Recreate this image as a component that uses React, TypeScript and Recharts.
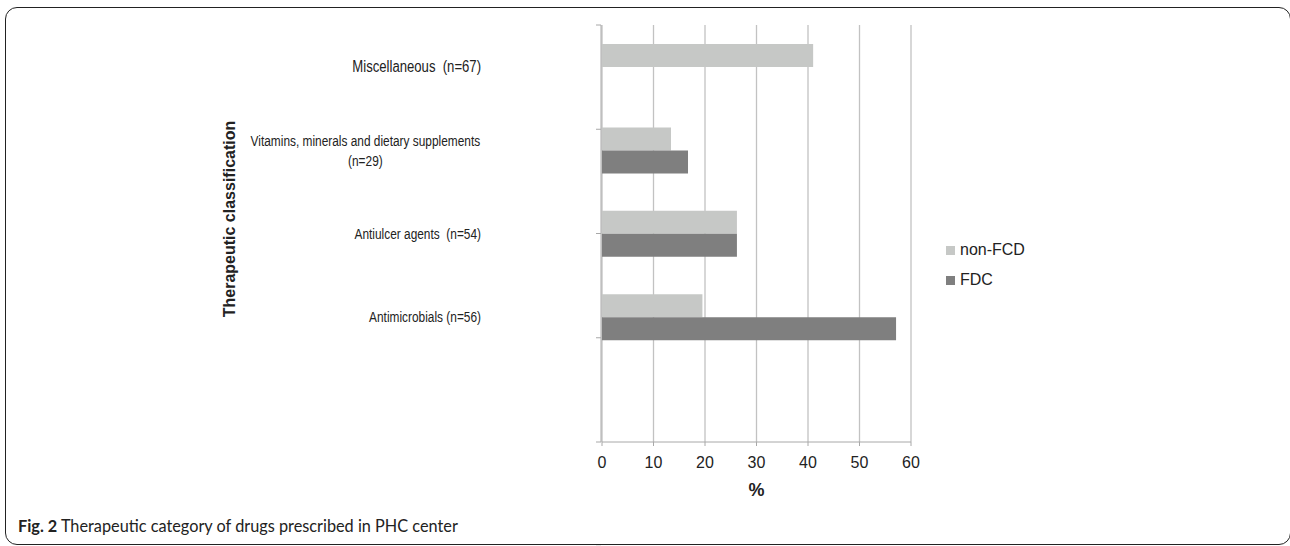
import React from "react";
import { BarChart, Bar, XAxis, YAxis, CartesianGrid, Legend } from "recharts";

// Категории сверху вниз (последняя пустая, как в оригинале)
const categories = [
  "Miscellaneous  (n=67)",
  "Vitamins, minerals and dietary supplements\n(n=29)",
  "Antiulcer agents  (n=54)",
  "Antimicrobials (n=56)",
  "",
];
const nonFcdValues = [41, 13.4, 26.2, 19.5, null];
const fdcValues = [0, 16.7, 26.2, 57.1, null];
const seriesNames = ["non-FCD", "FDC"];
const xTicks = [0, 10, 20, 30, 40, 50, 60];
const bandEdges = [0, 1, 2, 3, 4, 5];

const data = categories.map((name, i) => ({
  name,
  nonFcd: nonFcdValues[i],
  fdc: fdcValues[i],
}));

const LIGHT = "#c6c8c6";
const DARK = "#7f7f7f";
const AXIS = "#a8a8a8";
const GRID = "#c2c2c2";
const TEXT = "#222";
const SANS = '"Liberation Sans", Arial, Helvetica, sans-serif';
const NARROW_SCALE = 0.82; // имитация Arial Narrow

// Подпись категории: первая крупнее, многострочные центрируются
const CategoryTick = ({ x, y, payload }: any) => {
  const value = String(payload?.value ?? "");
  if (!value) return null;
  const lines = value.split("\n");
  const size = value === categories[0] ? 16 : 14.5;
  const lineH = 20;
  const first = -((lines.length - 1) * lineH) / 2;
  const multi = lines.length > 1;
  const cx = multi ? -141 : 0;
  return (
    <g transform={`translate(${x},${y}) scale(${NARROW_SCALE},1)`}>
      <text
        x={cx}
        y={0}
        textAnchor={multi ? "middle" : "end"}
        dominantBaseline="central"
        fontFamily={SANS}
        fontSize={size}
        fill={TEXT}
        style={{ whiteSpace: "pre" }}
      >
        {lines.map((l, i) => (
          <tspan key={i} x={cx} dy={i === 0 ? first : lineH}>
            {l}
          </tspan>
        ))}
      </text>
    </g>
  );
};

// Пустая метка: оставляем только штрихи на границах категорий
const EmptyTick = () => <g />;

const LegendContent = ({ payload }: any) => {
  const items = [...(payload || [])].sort(
    (a: any, b: any) => seriesNames.indexOf(a.value) - seriesNames.indexOf(b.value)
  );
  return (
    <div style={{ fontFamily: SANS, fontSize: 16, color: TEXT }}>
      {items.map((p: any, i: number) => (
        <div key={i} style={{ display: "flex", alignItems: "center", height: 30 }}>
          <span style={{ width: 9, height: 9, background: p.color, marginRight: 5, display: "inline-block" }} />
          <span>{p.value}</span>
        </div>
      ))}
    </div>
  );
};

export default function App() {
  return (
    <div
      style={{
        position: "fixed",
        left: 0,
        top: 0,
        width: 1290,
        height: 546,
        overflow: "hidden",
        background: "#fff",
      }}
    >
      {/* Рамка рисунка */}
      <div
        style={{
          position: "absolute",
          left: 5,
          top: 7,
          width: 1284,
          height: 536,
          border: "1.5px solid #222",
          borderRadius: 12,
        }}
      />
      <div style={{ position: "absolute", left: 0, top: 0 }}>
        <BarChart
          width={1290}
          height={546}
          data={data}
          layout="vertical"
          margin={{ top: 25, right: 379, bottom: 64, left: 471 }}
          barSize={23}
          barGap={0}
        >
          <CartesianGrid horizontal={false} stroke={GRID} strokeWidth={1.3} yAxisId="cat" />
          <XAxis
            type="number"
            domain={[0, 60]}
            ticks={xTicks}
            height={40}
            tickSize={4}
            tickMargin={11}
            axisLine={{ stroke: AXIS }}
            tickLine={{ stroke: AXIS }}
            tick={{ fill: TEXT, fontSize: 16, fontFamily: SANS }}
            label={{
              value: "%",
              position: "bottom",
              offset: 1,
              fill: TEXT,
              fontSize: 18,
              fontWeight: "bold",
              fontFamily: SANS,
            }}
          />
          <YAxis
            yAxisId="edges"
            type="number"
            domain={[0, 5]}
            allowDataOverflow
            ticks={bandEdges}
            width={130}
            tick={<EmptyTick />}
            tickSize={5}
            axisLine={{ stroke: AXIS }}
            tickLine={{ stroke: AXIS }}
          />
          <YAxis
            yAxisId="cat"
            type="category"
            dataKey="name"
            width={1}
            axisLine={false}
            tickLine={false}
            tickSize={0}
            tickMargin={121}
            tick={<CategoryTick />}
            interval={0}
          />
          <Legend
            layout="vertical"
            align="center"
            verticalAlign="middle"
            content={<LegendContent />}
            wrapperStyle={{ left: 946, top: 235, width: 120 }}
          />
          <Bar yAxisId="cat" dataKey="nonFcd" name="non-FCD" fill={LIGHT} isAnimationActive={false} />
          <Bar yAxisId="cat" dataKey="fdc" name="FDC" fill={DARK} isAnimationActive={false} />
        </BarChart>
      </div>
      {/* Заголовок оси Y */}
      <div
        style={{
          position: "absolute",
          left: 230,
          top: 219,
          transform: "translate(-50%, -50%) rotate(-90deg)",
          fontFamily: SANS,
          fontWeight: "bold",
          fontSize: 16,
          color: TEXT,
          whiteSpace: "nowrap",
        }}
      >
        Therapeutic classification
      </div>
      {/* Подпись рисунка */}
      <div
        style={{
          position: "absolute",
          left: 18,
          top: 516,
          fontFamily: "Lato, 'Open Sans', sans-serif",
          fontSize: 16.3,
          color: TEXT,
          whiteSpace: "nowrap",
        }}
      >
        <b>Fig. 2</b> Therapeutic category of drugs prescribed in PHC center
      </div>
    </div>
  );
}
